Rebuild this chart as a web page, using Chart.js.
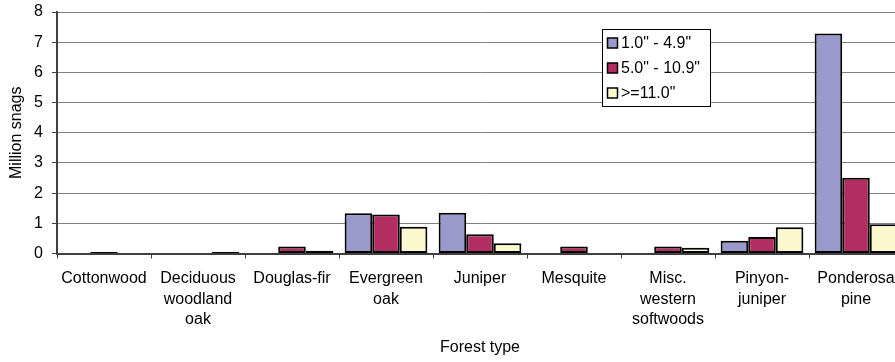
<!DOCTYPE html>
<html>
<head>
<meta charset="utf-8">
<script src="https://cdn.jsdelivr.net/npm/chart.js@4/dist/chart.umd.min.js"></script>
<style>
  html, body { margin: 0; padding: 0; background: #fff; overflow: hidden; width: 895px; height: 362px; }
  #wrap { position: absolute; left: 0; top: 0; width: 920px; height: 362px; }
</style>
</head>
<body>
<div id="wrap"><canvas id="c"></canvas></div>
<script>
const categories = [
  ['Cottonwood'],
  ['Deciduous', 'woodland', 'oak'],
  ['Douglas-fir'],
  ['Evergreen', 'oak'],
  ['Juniper'],
  ['Mesquite'],
  ['Misc.', 'western', 'softwoods'],
  ['Pinyon-', 'juniper'],
  ['Ponderosa', 'pine']
];
const seriesNames = ['1.0" - 4.9"', '5.0" - 10.9"', '>=11.0"'];
const small = [null, null, null, 1.33, 1.35, null, null, 0.42, 7.29];
const medium = [0.05, null, 0.23, 1.29, 0.64, 0.23, 0.23, 0.55, 2.51];
const large = [null, 0.05, 0.09, 0.89, 0.34, null, 0.19, 0.87, 0.97];
const yTicks = [0, 1, 2, 3, 4, 5, 6, 7, 8];
const colors = ['#9999CC', '#B22E62', '#FBF8CE'];

const FONT = "'Liberation Sans', Arial, sans-serif";

const boxLegend = {
  id: 'boxLegend',
  afterDraw(chart) {
    const ctx = chart.ctx;
    const x = 602.5, y = 29.5, w = 108, h = 77;
    ctx.save();
    ctx.fillStyle = '#fff';
    ctx.fillRect(x, y, w, h);
    ctx.strokeStyle = '#000';
    ctx.lineWidth = 1;
    ctx.strokeRect(x, y, w, h);
    ctx.font = '16px ' + FONT;
    ctx.textBaseline = 'middle';
    ctx.textAlign = 'left';
    chart.data.datasets.forEach((ds, i) => {
      const cy = 43 + i * 25;
      ctx.fillStyle = ds.backgroundColor;
      ctx.fillRect(607.5, cy - 5, 10, 10);
      ctx.strokeStyle = '#000';
      ctx.lineWidth = 1.5;
      ctx.strokeRect(607.5, cy - 5, 10, 10);
      ctx.fillStyle = '#000';
      ctx.fillText(ds.label, 621, cy + 1);
    });
    ctx.restore();
  }
};

const mk = (label, data, color) => ({
  label, data,
  backgroundColor: color,
  borderColor: '#000',
  borderWidth: 2,
  borderSkipped: false,
  categoryPercentage: 0.88,
  barPercentage: 1.0
});

new Chart(document.getElementById('c'), {
  type: 'bar',
  data: {
    labels: categories,
    datasets: [
      mk(seriesNames[0], small, colors[0]),
      mk(seriesNames[1], medium, colors[1]),
      mk(seriesNames[2], large, colors[2])
    ]
  },
  options: {
    responsive: true,
    maintainAspectRatio: false,
    animation: false,
    layout: { padding: { top: 12, left: 0, right: 17, bottom: 0 } },
    plugins: { legend: { display: false }, tooltip: { enabled: false } },
    scales: {
      x: {
        grid: { display: true, offset: true, drawOnChartArea: false, drawTicks: true, tickLength: 5, tickColor: '#404040', tickWidth: 1 },
        border: { display: true, color: '#404040', width: 2 },
        ticks: { color: '#000', font: { family: FONT, size: 16, lineHeight: 1.28 }, padding: 10, maxRotation: 0, autoSkip: false },
        title: { display: true, text: 'Forest type', color: '#000', font: { family: FONT, size: 16 }, padding: { top: 0, bottom: 5 } },
        afterFit(scale) { scale.height = 108.5; scale.paddingLeft = 0; scale.paddingRight = 0; }
      },
      y: {
        min: 0, max: 8,
        afterBuildTicks(scale) { scale.ticks = yTicks.map(v => ({ value: v })); },
        grid: { color: '#808080', lineWidth: 1, drawTicks: true, tickLength: 5, tickColor: '#404040' },
        border: { display: true, color: '#404040', width: 2 },
        ticks: { color: '#000', font: { family: FONT, size: 16 }, padding: 9 },
        title: { display: true, text: 'Million snags', color: '#000', font: { family: FONT, size: 16 }, padding: { top: 7, bottom: 0 } },
        afterFit(scale) { scale.width = 57; scale.paddingTop = 0; scale.paddingBottom = 0; }
      }
    }
  },
  plugins: [boxLegend]
});
</script>
</body>
</html>
